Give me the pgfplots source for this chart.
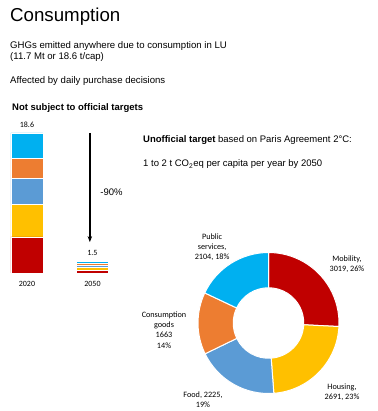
\documentclass[border=0pt]{standalone}
\usepackage{pgfplots}
\pgfplotsset{compat=1.18}
\usepackage{pgfplotstable}
\usepackage{fontspec}
\setmainfont{Liberation Sans}
\newfontfamily\calfont{Carlito}
\usetikzlibrary{arrows.meta}

\definecolor{cmob}{HTML}{C00000}
\definecolor{chou}{HTML}{FFC000}
\definecolor{cfood}{HTML}{5B9BD5}
\definecolor{cgoods}{HTML}{ED7D31}
\definecolor{cpub}{HTML}{00B0F0}
\colorlet{piecol0}{cmob}
\colorlet{piecol1}{chou}
\colorlet{piecol2}{cfood}
\colorlet{piecol3}{cgoods}
\colorlet{piecol4}{cpub}

\pgfplotstableread{
x mob hou food goods pub
0 4.80 4.28 3.54 2.64 3.34
1 0.39 0.35 0.29 0.21 0.27
}\bartable

\pgfplotstableread{
name value
Mobility 3019
Housing 2691
Food 2225
Goods 1663
Public 2104
}\pietable

\begin{document}
\def\pietot{0}%
\pgfplotsforeachungrouped \i in {0,...,4}{%
  \pgfplotstablegetelem{\i}{value}\of\pietable
  \pgfmathsetmacro\pietot{\pietot+\pgfplotsretval}%
}%
\begin{tikzpicture}[x=1pt,y=1pt]
\useasboundingbox (0pt,0pt) rectangle (377pt,411pt);

% texts
\node[anchor=base west,inner sep=0] at (10pt,389pt) {\fontsize{18.7}{22}\selectfont Consumption};
\node[anchor=base west,inner sep=0] at (10pt,362.5pt) {\fontsize{9.6}{11}\selectfont GHGs emitted anywhere due to consumption in LU};
\node[anchor=base west,inner sep=0] at (10pt,351.5pt) {\fontsize{9.6}{11}\selectfont (11.7 Mt or 18.6 t/cap)};
\node[anchor=base west,inner sep=0] at (10pt,327pt) {\fontsize{9.6}{11}\selectfont Affected by daily purchase decisions};
\node[anchor=base west,inner sep=0] at (12pt,300pt) {\fontsize{9.5}{11}\selectfont\bfseries Not subject to official targets};
\node[anchor=base west,inner sep=0] at (143pt,268.5pt) {\fontsize{9.5}{11}\selectfont\textbf{Unofficial target} based on Paris Agreement 2\textdegree C:};
\node[anchor=base west,inner sep=0] at (143pt,244.5pt) {\fontsize{9.5}{11}\selectfont 1 to 2 t CO\textsubscript{2}eq per capita per year by 2050};

% stacked bars
\begin{axis}[at={(10.6pt,138pt)}, anchor=south west, scale only axis,
  width=98.25pt, height=140pt, xmin=-0.25, xmax=1.25, ymin=0, ymax=18.6,
  hide axis, clip=false, ybar stacked, bar width=32pt,
  every axis plot/.append style={draw=white, line width=0.35pt}]
\addplot[fill=cmob] table[x=x,y=mob]{\bartable};
\addplot[fill=chou] table[x=x,y=hou]{\bartable};
\addplot[fill=cfood] table[x=x,y=food]{\bartable};
\addplot[fill=cgoods] table[x=x,y=goods]{\bartable};
\addplot[fill=cpub] table[x=x,y=pub]{\bartable};
\node[font=\calfont\fontsize{8}{9}\selectfont] at (axis cs:0,18.6) [yshift=8pt] {18.6};
\node[font=\calfont\fontsize{8}{9}\selectfont] at (axis cs:1,1.51) [yshift=9pt] {1.5};
\node[font=\calfont\fontsize{8}{9}\selectfont] at (axis cs:0,0) [yshift=-11pt] {2020};
\node[font=\calfont\fontsize{8}{9}\selectfont] at (axis cs:1,0) [yshift=-11pt] {2050};
\draw[-{Stealth[length=6pt,width=4.5pt]}, line width=1.3pt] (axis cs:0.96,18.6) -- (axis cs:0.96,4.1);
\end{axis}
\node[font=\fontsize{9.5}{11}\selectfont] at (111.5pt,219pt) {-90\%};

% donut
\begin{axis}[at={(268.5pt,88pt)}, anchor=center, scale only axis,
  width=141pt, height=141pt, xmin=-1, xmax=1, ymin=-1, ymax=1,
  hide axis, clip=false]
\pgfplotsextra{%
  \def\piecum{0}%
  \pgfplotsforeachungrouped \i in {0,...,4}{%
    \pgfplotstablegetelem{\i}{value}\of\pietable
    \pgfmathsetmacro\sA{90-\piecum/\pietot*360}%
    \pgfmathsetmacro\piecum{\piecum+\pgfplotsretval}%
    \pgfmathsetmacro\eA{90-\piecum/\pietot*360}%
    \filldraw[fill=piecol\i, draw=white, line width=1pt] (axis cs:0,0) ++(\sA:70.5pt)
      arc[start angle=\sA, end angle=\eA, radius=70.5pt] -- ++(\eA:-35.25pt)
      arc[start angle=\eA, end angle=\sA, radius=35.25pt] -- cycle;
  }%
}
\begin{scope}[every node/.style={font=\calfont\fontsize{8.2}{10.3}\selectfont, align=center}]
\node at (axis cs:-0.80,1.078) {Public\\services,\\2104, 18\%};
\node at (axis cs:1.113,0.83) {Mobility,\\3019, 26\%};
\node at (axis cs:-1.482,-0.10) {Consumption\\goods\\1663\\14\%};
\node at (axis cs:-0.929,-1.085) {Food, 2225,\\19\%};
\node at (axis cs:1.043,-0.986) {Housing,\\2691, 23\%};
\end{scope}
\end{axis}
\end{tikzpicture}
\end{document}
